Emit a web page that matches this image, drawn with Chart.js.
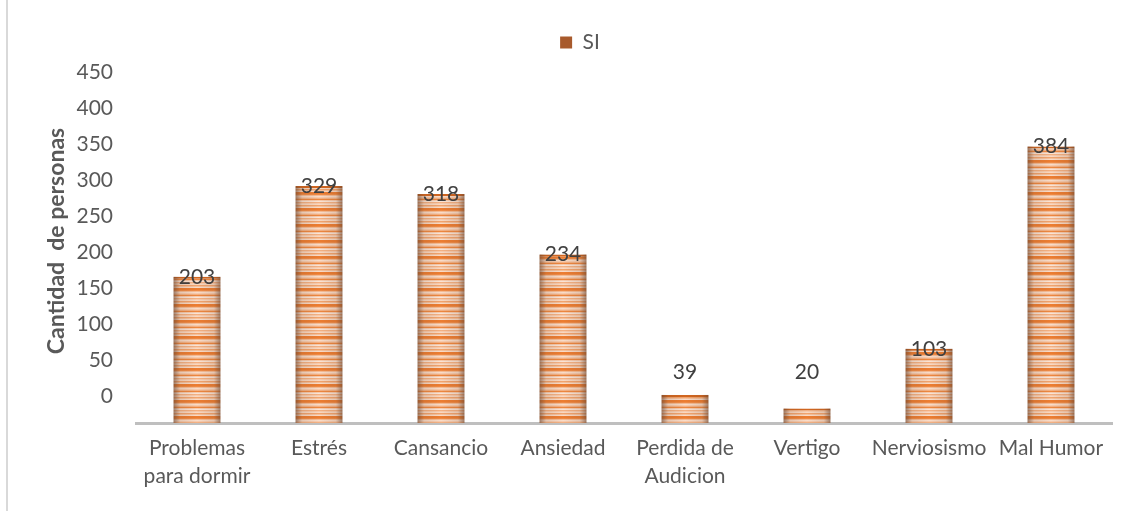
<!DOCTYPE html>
<html>
<head>
<meta charset="utf-8">
<script src="https://cdn.jsdelivr.net/npm/chart.js@4/dist/chart.umd.min.js"></script>
<style>
  html, body { margin: 0; padding: 0; background: #fff; }
  #wrap { position: relative; width: 1134px; height: 511px; }
</style>
</head>
<body>
<div id="wrap"><canvas id="myChart" width="1134" height="511"></canvas></div>
<script>
const categorias = [
  ['Problemas', 'para dormir'],
  'Estrés',
  'Cansancio',
  'Ansiedad',
  ['Perdida de', 'Audicion'],
  'Vertigo',
  'Nerviosismo',
  'Mal Humor'
]
const serieNombre = 'SI'
const valoresSI = [203, 329, 318, 234, 39, 20, 103, 384]
const ejeY = { min: 0, max: 450, paso: 50 }
const tituloY = 'Cantidad  de personas'

const FUENTE = 'Lato'
const GRIS = '#595959'

// relleno rayado de las barras (franjas naranjas horizontales)
function crearRayas() {
  const franjas = [
    '#ED7D31', '#ED7D31', '#EF8A45', '#F6BC94', '#FADCC8', '#F8CBAD', '#F4B183', '#EE873F',
    '#F8CBAD', '#FBE5D6', '#F4B183', '#F8CBAD', '#FAD9C2', '#F2A46E', '#F6C19C', '#FADCC8'
  ]
  const c = document.createElement('canvas')
  c.width = 4
  c.height = franjas.length
  const g = c.getContext('2d')
  franjas.forEach((col, i) => {
    g.fillStyle = col
    g.fillRect(0, i, 4, 1)
  })
  return g.createPattern(c, 'repeat')
}

const rayas = crearRayas()

// fondo blanco, linea gris del borde izquierdo y titulo del eje Y
const fondoYTitulo = {
  id: 'fondoYTitulo',
  beforeDraw(chart) {
    const ctx = chart.ctx
    ctx.save()
    ctx.fillStyle = '#ffffff'
    ctx.fillRect(0, 0, chart.width, chart.height)
    ctx.fillStyle = '#D9D9D9'
    ctx.fillRect(6, 0, 2, chart.height)
    ctx.restore()
  },
  afterDraw(chart) {
    const { top, bottom } = chart.chartArea
    const ctx = chart.ctx
    ctx.save()
    ctx.translate(57, (top + bottom) / 2 - 20)
    ctx.rotate(-Math.PI / 2)
    ctx.font = 'bold 23px ' + FUENTE
    ctx.fillStyle = GRIS
    ctx.textAlign = 'center'
    ctx.textBaseline = 'middle'
    ctx.fillText(tituloY, 0, 0)
    ctx.restore()
  }
}

// espacio extra entre leyenda y grafico, y leyenda algo corrida a la derecha
const ajusteLeyenda = {
  id: 'ajusteLeyenda',
  beforeInit(chart) {
    const fitOriginal = chart.legend.fit
    chart.legend.fit = function () {
      fitOriginal.bind(chart.legend)()
      this.height += 36
    }
  },
  afterLayout(chart) {
    chart.legend.left += 24
    chart.legend.right += 24
  }
}

// sombreado lateral de cada barra + etiquetas de valor
const barrasExtra = {
  id: 'barrasExtra',
  afterDatasetsDraw(chart) {
    const ctx = chart.ctx
    const meta = chart.getDatasetMeta(0)
    ctx.save()
    meta.data.forEach((bar) => {
      const { x, y, base, width } = bar.getProps(['x', 'y', 'base', 'width'], true)
      const izq = x - width / 2
      const grad = ctx.createLinearGradient(izq, 0, izq + width, 0)
      grad.addColorStop(0, 'rgba(105,70,50,0.65)')
      grad.addColorStop(0.14, 'rgba(105,70,50,0.15)')
      grad.addColorStop(0.5, 'rgba(105,70,50,0)')
      grad.addColorStop(0.86, 'rgba(105,70,50,0.15)')
      grad.addColorStop(1, 'rgba(105,70,50,0.65)')
      ctx.fillStyle = grad
      ctx.fillRect(izq, y, width, base - y)
    })
    ctx.font = '21px ' + FUENTE
    ctx.fillStyle = '#404040'
    ctx.textAlign = 'center'
    ctx.textBaseline = 'middle'
    meta.data.forEach((bar, i) => {
      const { x, y, base } = bar.getProps(['x', 'y', 'base'], true)
      // las barras chicas llevan la etiqueta un poco mas arriba
      const yTexto = Math.min(y, base - 51)
      ctx.fillText(String(valoresSI[i]), x, yTexto)
    })
    ctx.restore()
  }
}

const ctx = document.getElementById('myChart').getContext('2d')

const data = {
  labels: categorias,
  datasets: [{
    label: serieNombre,
    data: valoresSI,
    backgroundColor: rayas,
    borderColor: '#D2661F',
    borderWidth: { top: 2, right: 0, bottom: 0, left: 0 },
    borderSkipped: 'start',
    categoryPercentage: 1,
    barPercentage: 0.385
  }]
}

const config = {
  type: 'bar',
  data,
  options: {
    responsive: false,
    animation: false,
    layout: { padding: { top: 22, right: 22, left: 0, bottom: 0 } },
    plugins: {
      legend: {
        display: true,
        position: 'top',
        labels: {
          boxWidth: 12,
          boxHeight: 12,
          padding: 10,
          color: GRIS,
          font: { family: FUENTE, size: 21 },
          generateLabels(chart) {
            const items = Chart.defaults.plugins.legend.labels.generateLabels(chart)
            items.forEach(it => {
              it.fillStyle = '#A85A2C'
              it.lineWidth = 0
            })
            return items
          }
        }
      },
      tooltip: { enabled: false }
    },
    scales: {
      x: {
        grid: { display: false, drawTicks: false },
        border: { display: true, color: '#BFBFBF', width: 3 },
        ticks: {
          color: GRIS,
          padding: 11,
          maxRotation: 0,
          autoSkip: false,
          font: { family: FUENTE, size: 21, lineHeight: 1.33 }
        },
        afterFit(scale) { scale.height = 88 }
      },
      y: {
        min: ejeY.min,
        max: ejeY.max,
        grid: { display: false, drawTicks: false },
        border: { display: false },
        ticks: {
          stepSize: ejeY.paso,
          color: GRIS,
          padding: 23,
          labelOffset: -27,
          font: { family: FUENTE, size: 21 }
        },
        afterFit(scale) { scale.width = 136 }
      }
    }
  },
  plugins: [fondoYTitulo, ajusteLeyenda, barrasExtra]
}

const myChart = new Chart(ctx, config)
</script>
</body>
</html>
